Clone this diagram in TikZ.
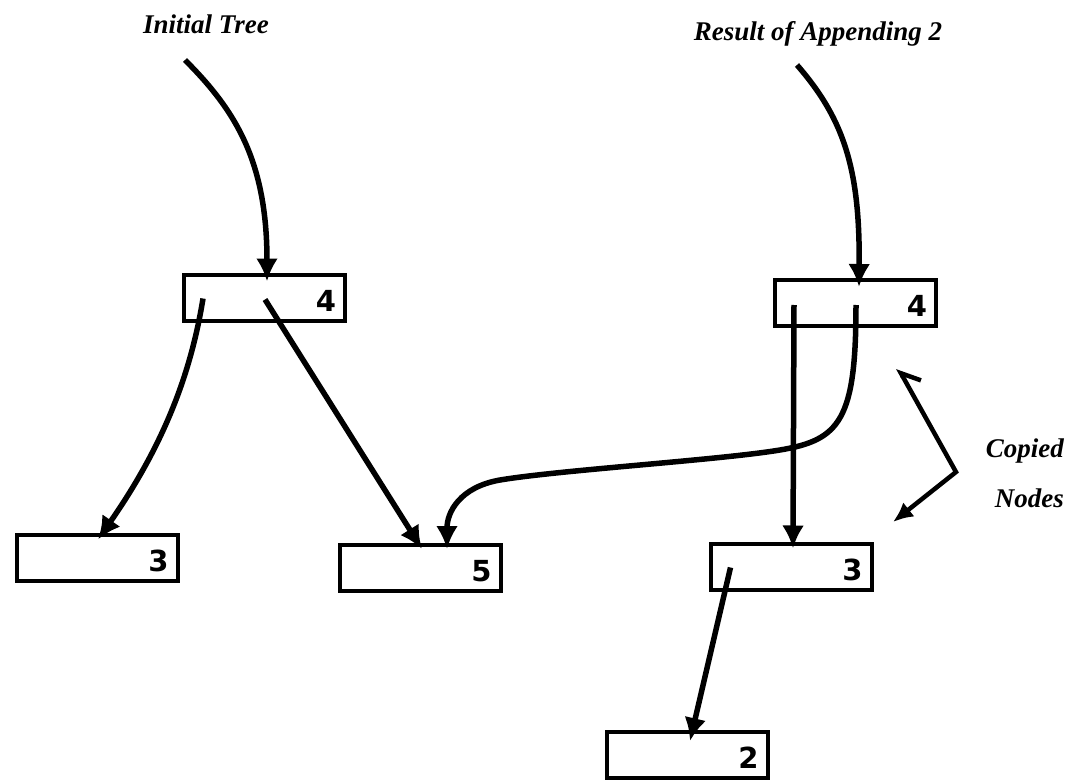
\documentclass[tikz,border=0pt]{standalone}
\usepackage{fontspec}
\setmainfont{Liberation Serif}
\newfontfamily\digitfont{DejaVu Sans}
\usetikzlibrary{arrows.meta,calc}
\begin{document}
\begin{tikzpicture}[x=1pt,y=-1pt,
  box/.style={draw,line width=4pt,inner xsep=9pt,inner ysep=0pt,text width=143pt,align=right,
    minimum height=46pt,text height=27pt,text depth=0pt,
    font=\digitfont\bfseries\fontsize{29}{29}\selectfont},
  lbl/.style={font=\bfseries\itshape\fontsize{27}{50}\selectfont,inner sep=0pt},
  link/.style={line width=5.5pt,-{Latex[length=23pt,width=22pt]}},
  pointer/.style={line width=4.5pt},
]
\useasboundingbox (0,0) rectangle (1072,781);

% titles
\node[lbl,anchor=base] (t1) at (206,34) {Initial Tree};
\node[lbl,anchor=base] (t2) at (818,41) {Result of Appending 2};
\node[lbl,anchor=north east,align=right] (cn) at (1064,439) {Copied\\Nodes};

% boxes
\node[box] (A) at (264.5,297.5) {4};
\node[box] (B) at (97,557.5) {3};
\node[box] (C) at (420,568) {5};
\node[box] (D) at (855.5,303) {4};
\node[box] (E) at (791,566.5) {3};
\node[box] (F) at (687,755) {2};

% connectors of the initial tree
\draw[link] ($(t1.base)+(-21,26)$) .. controls +(50,50) and +(0,-121) .. ($(A.north)+(2.5,9)$);
\draw[link] ($(A.north west)+(21,26)$) .. controls +(-13,81) and +(62,-89) .. ($(B.north)+(1,7)$);
\draw[link] ($(A.north west)+(83,27)$) -- ($(C.north)+(2,6)$);

% connectors of the result
\draw[link] ($(t2.base)+(-21,24)$) .. controls +(48,55) and +(1,-116) .. ($(D.north)+(3.5,9)$);
\draw[link] ($(D.north west)+(21,27)$) -- ($(E.north)+(2,7)$);
\draw[link] ($(D.north west)+(83,27)$) .. controls +(0,115) and (840,440) .. (780,450)
  .. controls (720,460) and (560,470) .. (500,480)
  .. controls (460,487) and ($(C.north)+(27,-31)$) .. ($(C.north)+(27,6)$);
\draw[link] ($(E.north west)+(22,26)$) -- ($(F.north)+(3,11)$);

% copied nodes pointer
\coordinate (cu) at (898,368);
\coordinate (cv) at (956,472);
\coordinate (cl) at (893,522);
\draw[pointer,{Straight Barb[harpoon,swap,length=16pt,width=28pt]}-{Latex[length=20pt,width=18pt]}] (cu) -- (cv) -- (cl);
\end{tikzpicture}
\end{document}
